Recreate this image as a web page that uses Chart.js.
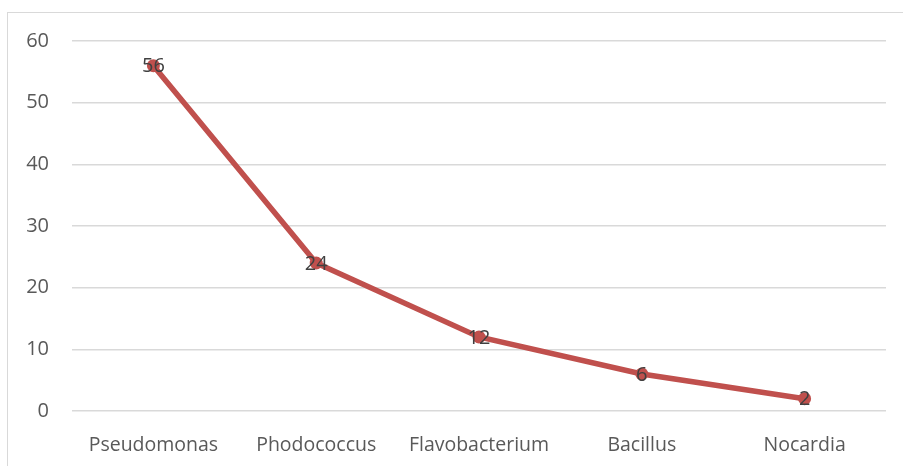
<!DOCTYPE html>
<html>
<head>
<meta charset="utf-8">
<script src="https://cdn.jsdelivr.net/npm/chart.js@4"></script>
<style>
  html, body { margin: 0; padding: 0; background: #fff; overflow: hidden; }
  #wrap { position: relative; width: 903px; height: 466px; }
  #frame { position: absolute; left: 7px; top: 12px; width: 910px; height: 470px;
           border: 1px solid #d9d9d9; box-sizing: border-box; }
  canvas { position: absolute; left: 0; top: 0; }
</style>
</head>
<body>
<div id="wrap">
  <div id="frame"></div>
  <canvas id="chart" width="903" height="466"></canvas>
</div>
<script>
const genera = ['Pseudomonas', 'Phodococcus', 'Flavobacterium', 'Bacillus', 'Nocardia']
const counts = [56, 24, 12, 6, 2]
const yTicks = [0, 10, 20, 30, 40, 50, 60]

const FONT = '"Open Sans", sans-serif'

// write each value on top of its marker
const pointLabels = {
    id: 'pointLabels',
    afterDatasetsDraw(chart) {
        const ctx = chart.ctx
        const meta = chart.getDatasetMeta(0)
        ctx.save()
        ctx.font = '20px ' + FONT
        ctx.fillStyle = '#404040'
        ctx.textAlign = 'center'
        ctx.textBaseline = 'middle'
        meta.data.forEach((pt, i) => {
            ctx.fillText(String(counts[i]), pt.x, pt.y + 1)
        })
        ctx.restore()
    }
}

new Chart(document.getElementById('chart'), {
    type: 'line',
    data: {
        labels: genera,
        datasets: [{
            data: counts,
            borderColor: '#c0504d',
            backgroundColor: '#c0504d',
            borderWidth: 5.5,
            pointRadius: 6.5,
            pointBorderWidth: 0,
            pointBackgroundColor: '#c0504d',
            tension: 0
        }]
    },
    options: {
        responsive: false,
        animation: false,
        layout: { padding: { left: 0, right: 17, top: 41, bottom: 0 } },
        plugins: { legend: { display: false }, tooltip: { enabled: false } },
        scales: {
            x: {
                offset: true,
                grid: { display: false },
                border: { display: false },
                ticks: { color: '#595959', font: { family: FONT, size: 19.5 }, padding: 15, maxRotation: 0 },
                afterFit(scale) { scale.height = 55 }
            },
            y: {
                min: 0,
                max: 60,
                afterBuildTicks(scale) { scale.ticks = yTicks.map(v => ({ value: v })) },
                grid: { color: '#d9d9d9', lineWidth: 1.5, drawTicks: false },
                border: { display: false },
                ticks: { color: '#595959', font: { family: FONT, size: 20 }, padding: 23 },
                afterFit(scale) { scale.width = 72 }
            }
        }
    },
    plugins: [pointLabels]
})
</script>
</body>
</html>
